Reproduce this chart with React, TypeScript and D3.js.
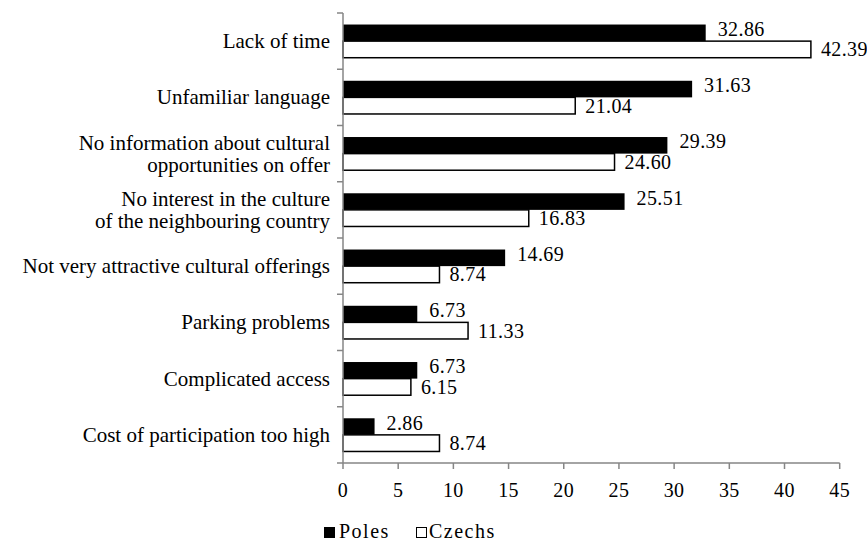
import React from "react";
import * as d3 from "d3";

const categories = [
  ["Lack of time"],
  ["Unfamiliar language"],
  ["No information about cultural", "opportunities on offer"],
  ["No interest in the culture", "of the neighbouring country"],
  ["Not very attractive cultural offerings"],
  ["Parking problems"],
  ["Complicated access"],
  ["Cost of participation too high"],
];
const poles = [32.86, 31.63, 29.39, 25.51, 14.69, 6.73, 6.73, 2.86];
const czechs = [42.39, 21.04, 24.6, 16.83, 8.74, 11.33, 6.15, 8.74];
const xTicks = [0, 5, 10, 15, 20, 25, 30, 35, 40, 45];

const W = 867;
const H = 542;
const left = 343;
const right = 839.7;
const top = 13;
const bottom = 463;
const numFont = "'Liberation Serif', 'Times New Roman', serif";
const catFont = "'Liberation Serif', 'Times New Roman', serif";

export default function App() {
  const x = d3.scaleLinear().domain([0, 45]).range([left, right]);
  const y = d3
    .scaleBand<number>()
    .domain(d3.range(categories.length))
    .range([top, bottom]);
  const bw = y.bandwidth();
  const barH = 16.6;
  const off = (bw - 2 * barH) / 2;
  const axisColor = "#868686";

  return (
    <svg
      width={W}
      height={H}
      style={{ position: "absolute", left: 0, top: 0, background: "#fff" }}
    >
      {categories.map((lines, i) => {
        const y0 = y(i)! + off;
        const cy = y(i)! + bw / 2;
        return (
          <g key={i}>
            <rect
              x={x(0)}
              y={y0}
              width={x(poles[i]) - x(0)}
              height={barH}
              fill="#000"
            />
            <rect
              x={x(0)}
              y={y0 + barH}
              width={x(czechs[i]) - x(0)}
              height={barH}
              fill="#fff"
              stroke="#000"
              strokeWidth={1.5}
            />
            <text
              x={x(poles[i]) + 12}
              y={y0 + barH / 2 - 4}
              dominantBaseline="central"
              fontFamily={numFont}
              fontSize={20}
              letterSpacing={0.4}
              fill="#000"
            >
              {poles[i].toFixed(2)}
            </text>
            <text
              x={x(czechs[i]) + 10}
              y={y0 + barH * 1.5}
              dominantBaseline="central"
              fontFamily={numFont}
              fontSize={20}
              letterSpacing={0.4}
              fill="#000"
            >
              {czechs[i].toFixed(2)}
            </text>
            {lines.map((ln, j) => (
              <text
                key={j}
                x={330}
                y={cy + (j - (lines.length - 1) / 2) * 22}
                textAnchor="end"
                dominantBaseline="central"
                fontFamily={catFont}
                fontSize={21}
                fill="#000"
              >
                {ln}
              </text>
            ))}
          </g>
        );
      })}
      {/* y axis */}
      <line x1={left} x2={left} y1={top} y2={bottom} stroke={axisColor} strokeWidth={1.5} />
      {d3.range(categories.length + 1).map((i) => {
        const yy = top + i * bw;
        return (
          <line key={i} x1={left - 6} x2={left} y1={yy} y2={yy} stroke={axisColor} strokeWidth={1.5} />
        );
      })}
      {/* x axis */}
      <line x1={left} x2={right} y1={bottom} y2={bottom} stroke={axisColor} strokeWidth={1.5} />
      {xTicks.map((t) => (
        <g key={t}>
          <line x1={x(t)} x2={x(t)} y1={bottom} y2={bottom + 6} stroke={axisColor} strokeWidth={1.5} />
          <text
            x={x(t)}
            y={490}
            textAnchor="middle"
            dominantBaseline="central"
            fontFamily={numFont}
            fontSize={20}
            letterSpacing={0.4}
            fill="#000"
          >
            {t}
          </text>
        </g>
      ))}
      {/* legend */}
      <rect x={324} y={527} width={11} height={11} fill="#000" />
      <text x={339} y={538} fontFamily={numFont} fontSize={20} letterSpacing={1.5} fill="#000">
        Poles
      </text>
      <rect x={416.5} y={527.5} width={10} height={10} fill="#fff" stroke="#000" strokeWidth={1} />
      <text x={429} y={538} fontFamily={numFont} fontSize={20} letterSpacing={1.5} fill="#000">
        Czechs
      </text>
    </svg>
  );
}
